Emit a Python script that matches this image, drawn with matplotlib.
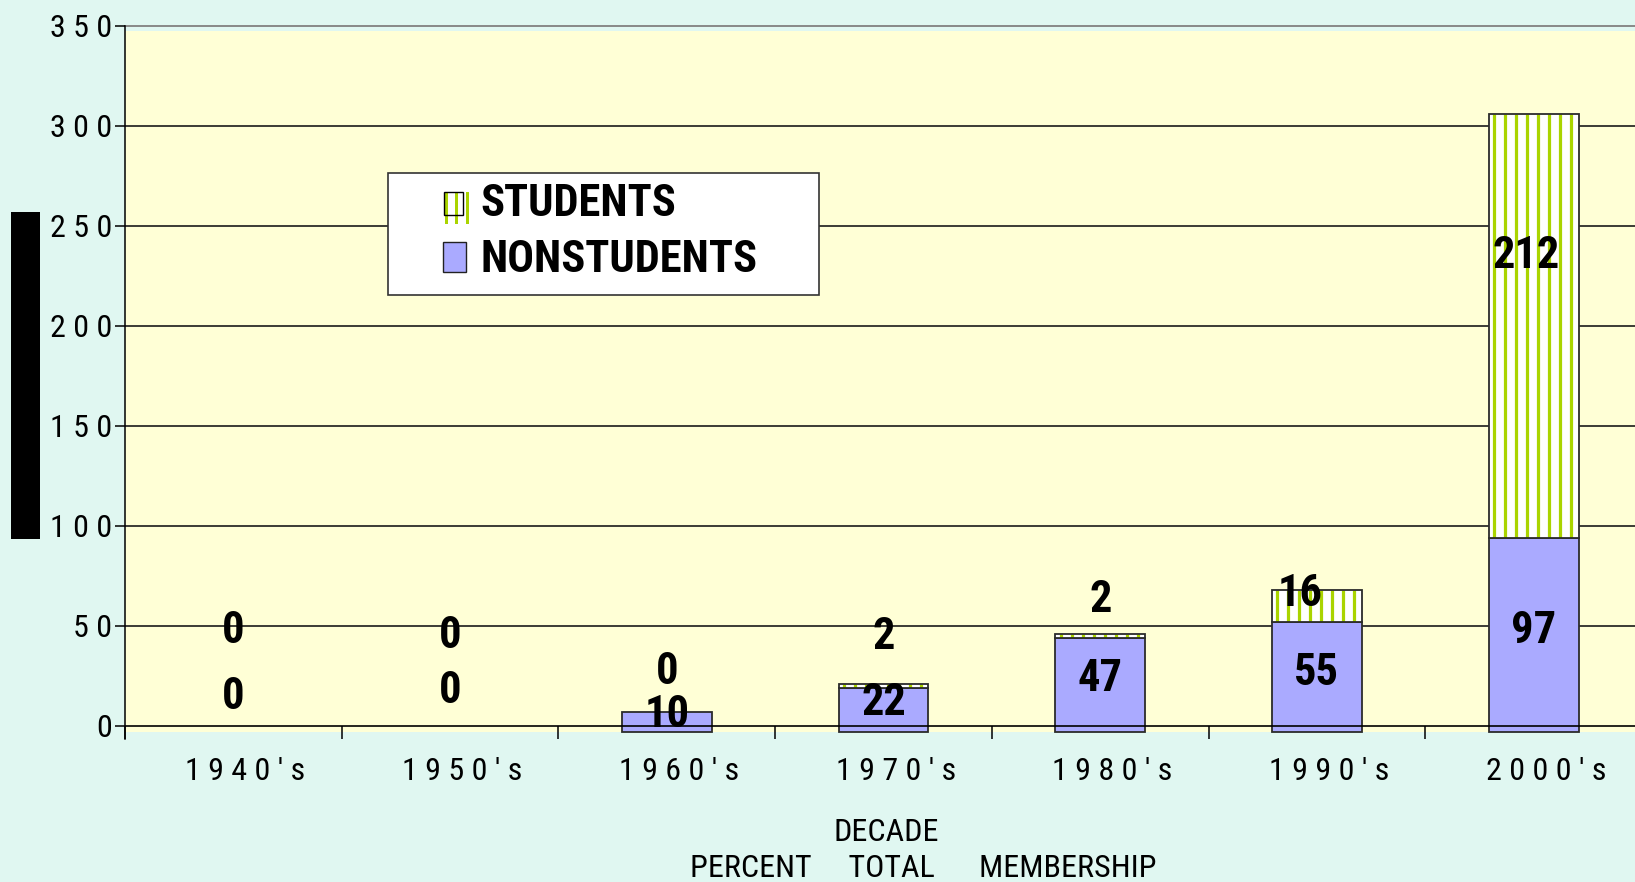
import numpy as np
import matplotlib
matplotlib.use("Agg")
import matplotlib.pyplot as plt
from matplotlib.patches import Rectangle
from matplotlib import transforms, font_manager

# ----- data -----
decades = ["1940's", "1950's", "1960's", "1970's", "1980's", "1990's", "2000's"]
nonstudents = [0, 0, 10, 22, 47, 55, 97]
students = [0, 0, 0, 2, 2, 16, 212]
yticks = [0, 50, 100, 150, 200, 250, 300, 350]

# the value labels in the original are not where you'd expect, so keep their spots
nonstudent_label_y = [16.2, 19.5, 7.4, 13.5, 25.5, 28.5, 49.5]
student_label_y = [49.5, 46.8, 29.0, 46.4, 65.0, 67.8, 237.0]
student_label_dx = [0, 0, 0, 0, 0, -17, -8]  # pixels

# ----- look -----
W, H = 1635, 882
BG = '#e0f7f1'
PLOT_BG = '#ffffd6'
BLUE = '#aaaaff'
GREEN = '#aad400'
EDGE = '#2b2b2b'

# original uses an Arial Narrow style face; take the first narrow family we have
installed = {f.name for f in font_manager.fontManager.ttflist}
narrow = [f for f in ['Liberation Sans Narrow', 'Roboto Condensed', 'Archivo Narrow',
                      'PT Sans Narrow', 'IBM Plex Sans Condensed', 'Open Sans Condensed']
          if f in installed][:1]
plt.rcParams['font.family'] = narrow + ['DejaVu Sans']


def fx(px):
    return px / W


def fy(py):
    return 1 - py / H


def fig_rect(x0, y0, x1, y1, **kw):
    fig.add_artist(Rectangle((fx(x0), fy(y1)), fx(x1) - fx(x0), fy(y0) - fy(y1),
                             transform=fig.transFigure, **kw))


fig = plt.figure(figsize=(W / 100, H / 100), dpi=100, facecolor=BG)
ax_left, ax_right, ax_top, ax_bottom = 125, 1642, 25.7, 738.6
ax = fig.add_axes([fx(ax_left), fy(ax_bottom), fx(ax_right) - fx(ax_left), fy(ax_top) - fy(ax_bottom)])
ax.set_facecolor('none')
n = len(decades)
ax.set_xlim(-0.5, n - 0.5)
ax.set_ylim(-6.45, 350)
px_per_x = (ax_right - ax_left) / n

base = -3.2  # bars in the original hang a little below the zero line
ax.axhspan(base, 347.5, color=PLOT_BG, lw=0, zorder=0)
ax.hlines(yticks[1:-1], -0.5, n - 0.5, color='#1a1a1a', lw=1.2, zorder=0.6)
ax.axhline(yticks[-1], color='#888888', lw=1.4, zorder=0.6, clip_on=False)

x = np.arange(n)
ns = np.array(nonstudents)
st = np.array(students)
width = 0.415

ns_bars = ax.bar(x, ns, width, bottom=base, color=BLUE,
                 edgecolor=[EDGE if v else 'none' for v in ns], lw=1.3, zorder=2)
st_bars = ax.bar(x, st, width, bottom=base + ns, color='white', lw=0, zorder=2)

# vertical green stripes on the student segments
step = 11 / px_per_x
for b in st_bars:
    if b.get_height() <= 0:
        continue
    xs = np.arange(b.get_x() + 5.5 / px_per_x, b.get_x() + b.get_width() - 2 / px_per_x, step)
    ax.vlines(xs, b.get_y(), b.get_y() + b.get_height(), color=GREEN, lw=2.3, zorder=2.1)
ax.bar(x, st, width, bottom=base + ns, fill=False,
       edgecolor=[EDGE if v else 'none' for v in st], lw=1.3, zorder=2.2)

ax.axhline(0, color='black', lw=1.2, zorder=3)

for side in ['top', 'right', 'bottom']:
    ax.spines[side].set_visible(False)
ax.spines['left'].set_linewidth(1.1)
ax.spines['left'].set_zorder(3)

ax.set_yticks(yticks)
ax.set_yticklabels([' '.join(str(v)) for v in yticks])
ax.tick_params(axis='y', direction='out', length=7.2, width=1.1, pad=2, labelsize=23)
ax.set_xticks(x)
ax.set_xticklabels([' '.join(d) for d in decades])
ax.set_xticks(np.arange(n + 1) - 0.5, minor=True)
ax.tick_params(axis='x', which='major', length=0, pad=13, labelsize=23)
ax.tick_params(axis='x', which='minor', direction='in', length=9.3, width=1.1)
shift = transforms.ScaledTranslation(12.2 / 100, 0, fig.dpi_scale_trans)
for lbl in ax.get_xticklabels():
    lbl.set_transform(lbl.get_transform() + shift)

# value labels
half_cap = 15.85
for i in range(n):
    tr = transforms.offset_copy(ax.transData, fig=fig, x=0, y=-half_cap, units='dots')
    ax.text(i, nonstudent_label_y[i], str(nonstudents[i]), transform=tr, ha='center',
            va='baseline', size=32, weight='bold', zorder=5)
    tr = transforms.offset_copy(ax.transData, fig=fig, x=student_label_dx[i], y=-half_cap, units='dots')
    ax.text(i, student_label_y[i], str(students[i]), transform=tr, ha='center',
            va='baseline', size=32, weight='bold', zorder=5)

# axis titles as they ended up in the original
fig.text(fx(886.3), fy(840.7), 'DECADE', ha='center', va='baseline', size=23)
fig.text(fx(690.3), fy(876.7), 'PERCENT     TOTAL      MEMBERSHIP', ha='left', va='baseline', size=23)

# the black block on the left
fig_rect(11, 212, 40, 539, color='black', lw=0)

# legend
fig_rect(388, 173, 819, 295, facecolor='white', edgecolor='#333333', lw=1.2)
fig_rect(444, 192, 463, 215, facecolor='white', lw=0)
for sx in [446.7, 456.7, 467.3]:
    fig_rect(sx - 1.4, 192, sx + 1.4, 224, color=GREEN, lw=0)
fig_rect(444, 192, 463, 215, fill=False, edgecolor='black', lw=1.0)
fig_rect(443, 242, 466, 272, facecolor=BLUE, edgecolor='#222222', lw=1.0)
fig.text(fx(480), fy(216.5), 'STUDENTS', ha='left', va='baseline', size=32, weight='bold')
fig.text(fx(480), fy(271.7), 'NONSTUDENTS', ha='left', va='baseline', size=32, weight='bold')

fig.savefig('out.png', dpi=100, facecolor=BG)
